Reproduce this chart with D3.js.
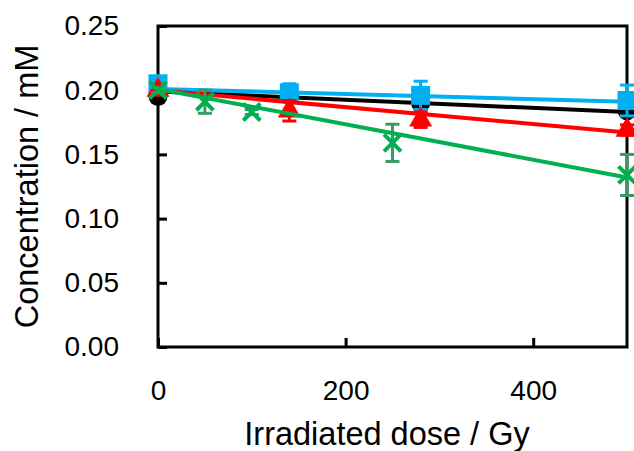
<!DOCTYPE html>
<html>
<head>
<meta charset="utf-8">
<script src="https://cdn.jsdelivr.net/npm/d3@7"></script>
<style>
  html, body { margin: 0; padding: 0; background: #fff; }
  svg { display: block; }
  text { font-family: "Liberation Sans", Arial, sans-serif; fill: #000; }
</style>
</head>
<body>
<svg id="chart" width="634" height="451"></svg>
<script>
// ---- Data ----
const xTicks = [0, 200, 400];
const yTicks = [0.00, 0.05, 0.10, 0.15, 0.20, 0.25];

const blackDose = [0, 140, 280, 500];
const blackConc = [0.195, 0.196, 0.190, 0.184];
const blackErr  = [0.003, 0.004, 0.004, 0.004];
const blackFit  = [0.199, 0.183];

const blueDose = [0, 140, 280, 500];
const blueConc = [0.205, 0.198, 0.196, 0.192];
const blueErr  = [0.004, 0.007, 0.011, 0.012];
const blueFit  = [0.201, 0.191];

const redDose = [0, 140, 280, 500];
const redConc = [0.200, 0.184, 0.177, 0.169];
const redErr  = [0.003, 0.008, 0.006, 0.004];
const redFit  = [0.200, 0.167];

const greenDose = [0, 50, 100, 250, 500];
const greenConc = [0.200, 0.191, 0.183, 0.159, 0.134];
const greenErr  = [0.002, 0.009, 0.002, 0.0145, 0.016];
const greenFit  = [0.201, 0.132];

const fitRange = [0, 500];

// ---- Layout ----
const svg = d3.select("#chart");
const mLeft = 158, mRight = 627, mTop = 26, mBottom = 347;
const x = d3.scaleLinear().domain([0, 500]).range([mLeft, mRight]);
const y = d3.scaleLinear().domain([0, 0.25]).range([mBottom, mTop]);

// frame
svg.append("rect")
  .attr("x", mLeft).attr("y", mTop)
  .attr("width", mRight - mLeft).attr("height", mBottom - mTop)
  .attr("fill", "none").attr("stroke", "#000").attr("stroke-width", 3);

// axes (inward ticks)
const yAxis = d3.axisLeft(y).tickValues(yTicks).tickSize(-9).tickPadding(39)
  .tickFormat(d3.format(".2f"));
const gy = svg.append("g").attr("transform", `translate(${mLeft},0)`).call(yAxis);
gy.select(".domain").remove();
gy.selectAll(".tick line").attr("stroke", "#000").attr("stroke-width", 3);
gy.selectAll(".tick text").attr("font-size", 28).attr("font-family", "Liberation Sans, Arial, sans-serif");

const xAxis = d3.axisBottom(x).tickValues(xTicks).tickSize(-9).tickPadding(33)
  .tickFormat(d3.format("d"));
const gx = svg.append("g").attr("transform", `translate(0,${mBottom})`).call(xAxis);
gx.select(".domain").remove();
gx.selectAll(".tick line").attr("stroke", "#000").attr("stroke-width", 3);
gx.selectAll(".tick text").attr("font-size", 28).attr("font-family", "Liberation Sans, Arial, sans-serif");

// titles
svg.append("text").attr("x", 387).attr("y", 445)
  .attr("text-anchor", "middle").attr("font-size", 32.5)
  .text("Irradiated dose / Gy");
svg.append("text")
  .attr("transform", `translate(38,${(43 + 330) / 2}) rotate(-90)`)
  .attr("text-anchor", "middle").attr("font-size", 32.5)
  .text("Concentration / mM");

// ---- series ----
const series = [
  {dose: blackDose, conc: blackConc, err: blackErr, fit: blackFit, color: "#000000", errColor: "#000000", marker: "circle"},
  {dose: blueDose, conc: blueConc, err: blueErr, fit: blueFit, color: "#00B0F0", errColor: "#00B0F0", marker: "square"},
  {dose: redDose, conc: redConc, err: redErr, fit: redFit, color: "#FF0000", errColor: "#FF0000", marker: "triangle"},
  {dose: greenDose, conc: greenConc, err: greenErr, fit: greenFit, color: "#00B050", errColor: "#3A9A66", marker: "x"}
];

const plot = svg.append("g");
series.forEach(s => {
  const pts = s.dose.map((d, i) => ({d, c: s.conc[i], e: s.err[i]}));
  const g = plot.append("g");
  // error bars
  pts.forEach(p => {
    const eg = g.append("g").attr("stroke", s.errColor).attr("stroke-width", 3);
    const cx = x(p.d);
    eg.append("line").attr("x1", cx).attr("x2", cx).attr("y1", y(p.c - p.e)).attr("y2", y(p.c + p.e));
    [p.c - p.e, p.c + p.e].forEach(v => {
      eg.append("line").attr("x1", cx - 7).attr("x2", cx + 7).attr("y1", y(v)).attr("y2", y(v));
    });
  });
  // fit line
  g.append("line")
    .attr("x1", x(fitRange[0])).attr("y1", y(s.fit[0]))
    .attr("x2", x(fitRange[1])).attr("y2", y(s.fit[1]))
    .attr("stroke", s.color).attr("stroke-width", 4);
  // markers
  pts.forEach(p => {
    const cx = x(p.d), cy = y(p.c);
    if (s.marker === "circle") {
      g.append("circle").attr("cx", cx).attr("cy", cy).attr("r", 9.5).attr("fill", s.color);
    } else if (s.marker === "square") {
      g.append("rect").attr("x", cx - 9.5).attr("y", cy - 9.5).attr("width", 19).attr("height", 19).attr("fill", s.color);
    } else if (s.marker === "triangle") {
      g.append("path").attr("d", d3.symbol(d3.symbolTriangle, 230)()).attr("transform", `translate(${cx},${cy})`).attr("fill", s.color);
    } else {
      g.append("path").attr("d", `M${cx-8.5},${cy-8.5}L${cx+8.5},${cy+8.5}M${cx-8.5},${cy+8.5}L${cx+8.5},${cy-8.5}`)
        .attr("stroke", s.color).attr("stroke-width", 4).attr("fill", "none");
    }
  });
});
</script>
</body>
</html>
